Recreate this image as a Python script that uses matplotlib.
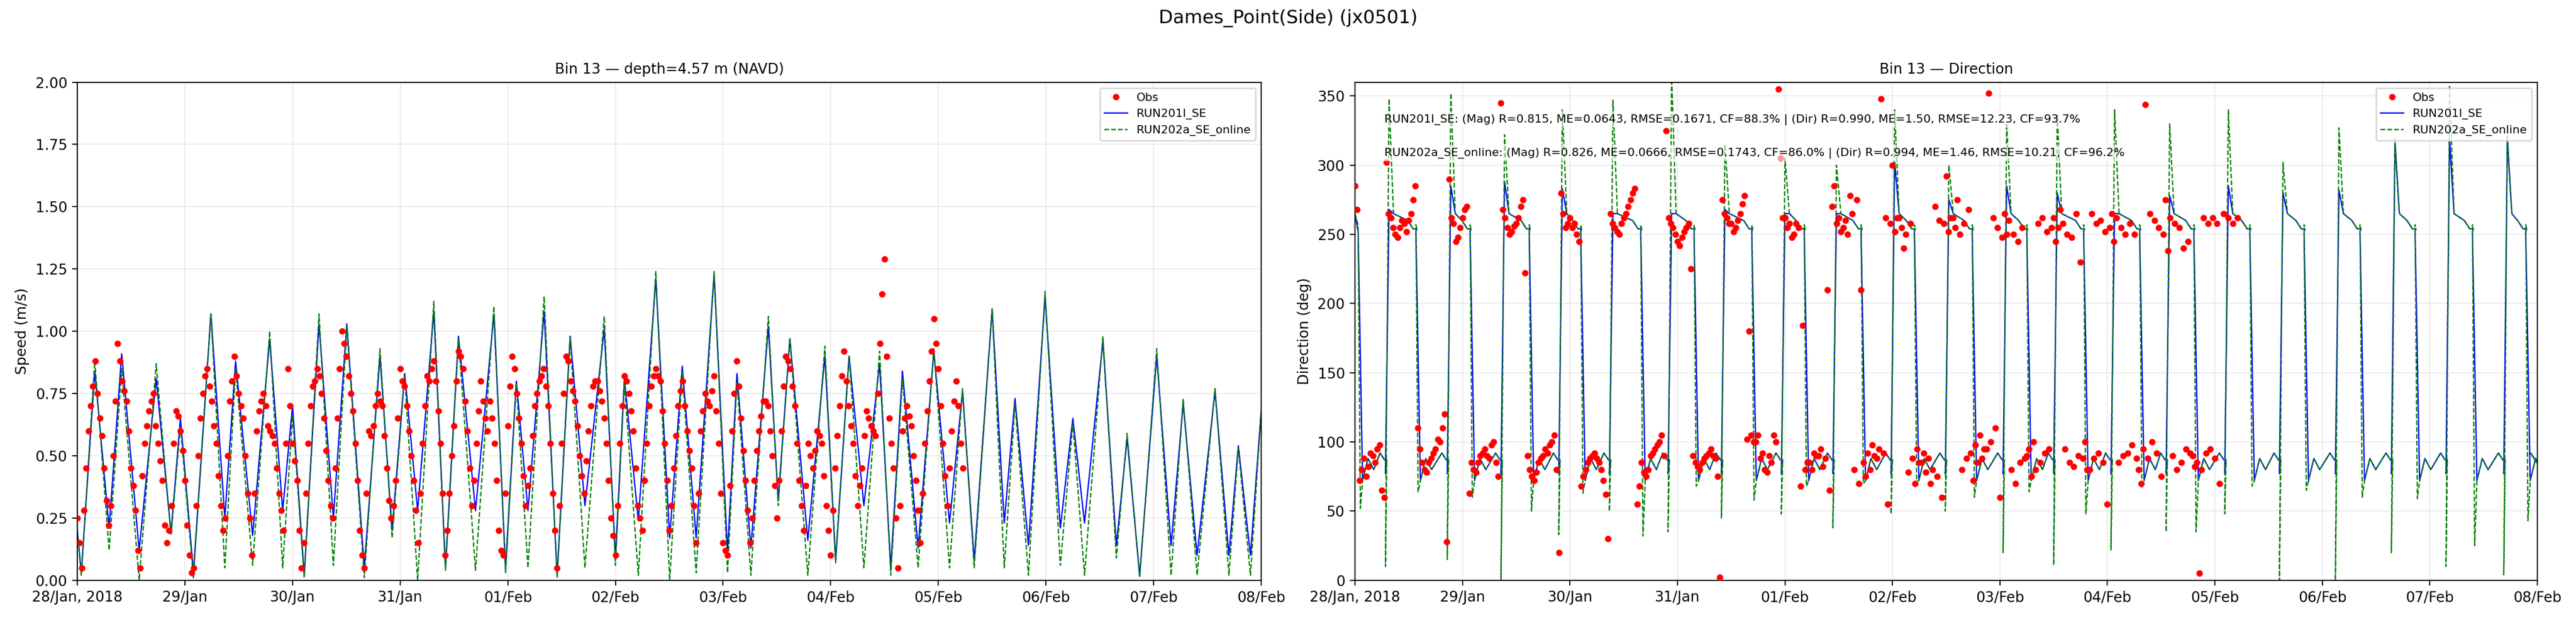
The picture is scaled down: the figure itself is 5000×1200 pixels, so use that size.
import numpy as np
import pandas as pd
import matplotlib
matplotlib.use("Agg")
import matplotlib.pyplot as plt
import matplotlib.dates as mdates

t0 = pd.Timestamp("2018-01-28 00:00")

# model speed: hours of turning points and values
spd_hours = [0, 0.9, 3.9, 7.1, 9.9, 13.8, 17.6, 20.9, 23.0, 25.9, 29.8, 32.9, 35.3, 39.1, 42.9,
             45.8, 48.0, 50.6, 53.9, 57.1, 60.1, 64.0, 67.5, 70.2, 73.0, 75.9, 79.5, 82.1, 85.0, 88.8,
             92.9, 95.5, 97.9, 100.5, 104.1, 107.0, 109.9, 113.2, 117.5, 120.0, 122.0, 125.1, 129.0, 132.1, 134.9,
             138.0, 142.0, 145.0, 147.1, 150.2, 154.1, 156.3, 158.9, 162.9, 166.7, 169.1, 172.1, 175.4, 178.9, 181.4,
             184.0, 187.5, 191.0, 194.5, 197.4, 200.0, 204.0, 206.7, 209.1, 212.1, 215.8, 219.2, 222.0, 224.6, 228.7,
             231.7, 234.1, 236.9, 240.7, 243.9, 246.6, 249.7, 253.7, 256.8, 258.9, 261.6, 264]
spd_run201 = [0.20, 0.03, 0.84, 0.21, 0.91, 0.12, 0.81, 0.19, 0.65, 0.03, 1.07, 0.25, 0.88, 0.18, 0.97,
              0.28, 0.70, 0.02, 1.03, 0.25, 1.03, 0.05, 0.90, 0.20, 0.83, 0.28, 1.08, 0.05, 0.98, 0.28,
              1.07, 0.05, 0.80, 0.28, 1.08, 0.02, 0.98, 0.30, 1.01, 0.09, 0.81, 0.24, 1.21, 0.17, 0.86,
              0.17, 1.23, 0.11, 0.83, 0.13, 1.02, 0.32, 0.97, 0.16, 0.90, 0.08, 0.90, 0.30, 0.87, 0.05,
              0.84, 0.13, 0.92, 0.23, 0.76, 0.08, 1.09, 0.23, 0.73, 0.14, 1.14, 0.21, 0.65, 0.23, 0.96,
              0.14, 0.57, 0.02, 0.90, 0.14, 0.71, 0.10, 0.76, 0.10, 0.54, 0.10, 0.68]
spd_run202 = [0.20, 0.02, 0.88, 0.12, 0.85, 0.00, 0.87, 0.18, 0.62, 0.01, 1.07, 0.05, 0.85, 0.06, 1.00,
              0.05, 0.66, 0.01, 1.07, 0.06, 1.02, 0.01, 0.93, 0.17, 0.82, 0.00, 1.12, 0.04, 0.97, 0.04,
              1.10, 0.03, 0.79, 0.05, 1.14, 0.01, 0.97, 0.05, 1.06, 0.06, 0.79, 0.02, 1.24, 0.00, 0.84,
              0.03, 1.24, 0.03, 0.80, 0.02, 1.06, 0.30, 0.97, 0.02, 0.94, 0.07, 0.90, 0.05, 0.92, 0.02,
              0.81, 0.05, 0.93, 0.05, 0.77, 0.05, 1.09, 0.05, 0.71, 0.02, 1.16, 0.06, 0.63, 0.02, 0.98,
              0.09, 0.59, 0.01, 0.93, 0.02, 0.73, 0.02, 0.77, 0.02, 0.53, 0.02, 0.68]

# observed speed, hourly from 28/Jan 00:00
obs_spd = [0.25, 0.05, 0.45, 0.70, 0.88, 0.65, 0.45, 0.22, 0.50, 0.95, 0.80, 0.72, 0.45, 0.28, 0.05, 0.55,
           0.68, 0.75, 0.55, 0.40, 0.15, 0.30, 0.68, 0.60, 0.40, 0.10, 0.05, 0.50, 0.75, 0.85, 0.72, 0.55,
           0.30, 0.25, 0.72, 0.90, 0.75, 0.65, 0.35, 0.10, 0.60, 0.72, 0.70, 0.60, 0.55, 0.35, 0.20, 0.85,
           0.55, 0.40, 0.05, 0.35, 0.70, 0.80, 0.82, 0.65, 0.40, 0.25, 0.65, 1.00, 0.90, 0.75, 0.55, 0.20,
           0.05, 0.60, 0.62, 0.75, 0.70, 0.45, 0.25, 0.40, 0.85, 0.78, 0.60, 0.40, 0.15, 0.55, 0.82, 0.85,
           0.80, 0.55, 0.10, 0.35, 0.62, 0.92, 0.85, 0.60, 0.30, 0.55, 0.80, 0.65, 0.72, 0.55, 0.20, 0.10,
           0.62, 0.90, 0.75, 0.55, 0.30, 0.45, 0.70, 0.80, 0.85, 0.70, 0.35, 0.05, 0.55, 0.90, 0.80, 0.72,
           0.50, 0.35, 0.60, 0.78, 0.80, 0.72, 0.55, 0.25, 0.10, 0.55, 0.82, 0.75, 0.60, 0.30, 0.20, 0.55,
           0.78, 0.85, 0.80, 0.55, 0.20, 0.45, 0.70, 0.80, 0.60, 0.45, 0.15, 0.60, 0.75, 0.70, 0.82, 0.55,
           0.15, 0.10, 0.60, 0.88, 0.65, 0.40, 0.15, 0.40, 0.60, 0.72, 0.70, 0.50, 0.25, 0.60, 0.90, 0.85,
           0.70, 0.40, 0.20, 0.55, 0.45, 0.60, 0.55, 0.30, 0.10, 0.45, 0.70, 0.92, 0.70, 0.55, 0.30, 0.45,
           0.68, 0.62, 0.58, 0.95, 1.29, 0.65, 0.45, 0.05, 0.60, 0.70, 0.62, 0.40, 0.15, 0.55, 0.80, 1.05,
           0.85, 0.55, 0.30, 0.60, 0.80, 0.55]
# observed speed at half past each hour
obs_spd_half = [0.15, 0.28, 0.60, 0.78, 0.75, 0.58, 0.32, 0.30, 0.72, 0.88, 0.76, 0.60, 0.38, 0.12, 0.42, 0.62,
                0.72, 0.62, 0.48, 0.22, 0.20, 0.55, 0.66, 0.52, 0.22, 0.03, 0.30, 0.65, 0.82, 0.78, 0.62, 0.42,
                0.20, 0.50, 0.80, 0.82, 0.70, 0.50, 0.25, 0.35, 0.68, 0.75, 0.62, 0.58, 0.45, 0.28, 0.55, 0.70,
                0.48, 0.20, 0.15, 0.55, 0.78, 0.85, 0.75, 0.52, 0.30, 0.45, 0.85, 0.95, 0.82, 0.68, 0.40, 0.10,
                0.35, 0.58, 0.70, 0.72, 0.58, 0.32, 0.30, 0.65, 0.80, 0.70, 0.50, 0.28, 0.35, 0.70, 0.80, 0.88,
                0.68, 0.35, 0.20, 0.50, 0.80, 0.90, 0.72, 0.45, 0.40, 0.68, 0.72, 0.60, 0.65, 0.40, 0.12, 0.35,
                0.78, 0.85, 0.65, 0.42, 0.38, 0.58, 0.75, 0.82, 0.78, 0.55, 0.20, 0.30, 0.75, 0.88, 0.76, 0.62,
                0.42, 0.48, 0.70, 0.80, 0.76, 0.65, 0.40, 0.18, 0.30, 0.70, 0.80, 0.68, 0.45, 0.25, 0.40, 0.70,
                0.82, 0.82, 0.68, 0.40, 0.30, 0.58, 0.76, 0.70, 0.52, 0.30, 0.35, 0.68, 0.72, 0.76, 0.68, 0.35,
                0.12, 0.38, 0.75, 0.78, 0.52, 0.28, 0.25, 0.52, 0.66, 0.72, 0.60, 0.38, 0.40, 0.78, 0.88, 0.78,
                0.55, 0.30, 0.38, 0.50, 0.52, 0.58, 0.42, 0.20, 0.28, 0.58, 0.82, 0.80, 0.62, 0.42, 0.38, 0.58,
                0.65, 0.60, 0.75, 1.15, 0.90, 0.55, 0.25, 0.30, 0.65, 0.66, 0.50, 0.28, 0.35, 0.68, 0.92, 0.95,
                0.70, 0.42, 0.45, 0.72, 0.70, 0.45]

# observed direction, hourly from 28/Jan 00:00
obs_dir = [285, 72, 88, 82, 90, 95, 65, 302, 262, 250, 255, 258, 260, 275, 110, 85, 78, 88, 95, 100,
           120, 290, 258, 248, 262, 270, 85, 78, 90, 95, 88, 100, 75, 268, 255, 252, 258, 270, 222, 80,
           72, 85, 90, 92, 100, 80, 280, 255, 262, 258, 245, 75, 85, 90, 88, 80, 62, 265, 255, 250,
           262, 270, 280, 55, 85, 75, 90, 95, 100, 90, 262, 255, 245, 248, 255, 225, 85, 80, 88, 92,
           90, 75, 275, 262, 258, 255, 265, 278, 180, 100, 105, 92, 78, 85, 100, 305, 262, 258, 250, 255,
           184, 85, 80, 90, 95, 88, 65, 285, 262, 255, 250, 265, 275, 210, 75, 80, 90, 95, 92, 55,
           300, 262, 255, 250, 258, 70, 85, 92, 88, 80, 75, 60, 292, 262, 255, 250, 258, 268, 72, 85,
           88, 95, 100, 110, 60, 265, 260, 250, 245, 255, 90, 75, 80, 85, 92, 95, 262, 255, 258, 250,
           248, 265, 230, 100, 80, 88, 92, 85, 55, 265, 262, 255, 250, 258, 250, 80, 95, 88, 100, 92,
           75, 275, 262, 258, 255, 240, 245, 90, 85, 80, 92, 95, 88, 70, 265, 262, 258, 262]
# observed direction at half past each hour
obs_dir_half = [268, 80, 75, 92, 85, 98, 60, 265, 255, 248, 260, 252, 265, 285, 95, 80, 85, 92, 102, 110,
                28, 262, 245, 255, 268, 63, 80, 85, 92, 90, 98, 85, 345, 262, 250, 256, 262, 275, 90, 75,
                78, 88, 95, 98, 105, 20, 265, 258, 255, 250, 68, 80, 88, 92, 85, 72, 30, 258, 252, 258,
                265, 275, 283, 68, 78, 80, 92, 98, 105, 325, 258, 250, 242, 252, 258, 90, 82, 85, 90, 95,
                88, 2, 265, 258, 252, 260, 272, 102, 105, 100, 88, 80, 90, 105, 355, 262, 255, 248, 258, 68,
                80, 85, 92, 90, 82, 210, 270, 258, 252, 260, 278, 80, 70, 85, 92, 98, 88, 348, 262, 258,
                252, 262, 240, 78, 88, 95, 85, 78, 70, 270, 260, 258, 252, 262, 275, 80, 88, 92, 98, 105,
                95, 352, 262, 255, 248, 250, 80, 70, 85, 88, 95, 100, 258, 262, 252, 255, 245, 268, 95,
                85, 82, 90, 88, 80, 265, 258, 260, 252, 255, 245, 85, 90, 92, 98, 88, 70, 344, 265, 260,
                255, 250, 238, 90, 80, 85, 95, 92, 82, 5, 262, 258, 262, 258]

# direction model: slack-water switch hours (alternating down / up)
switch_hours = [0.9, 7.1, 13.8, 20.9, 25.9, 32.9, 39.1, 45.8, 50.6, 57.1, 64.0, 70.2, 75.9, 82.1, 88.8,
                95.5, 100.5, 107.0, 113.2, 120.0, 125.1, 132.1, 138.0, 145.0, 150.2, 156.3, 162.9, 169.1,
                175.4, 181.4, 187.5, 194.5, 200.0, 206.7, 212.1, 219.2, 224.6, 231.7, 236.9, 243.9, 249.7,
                256.8, 261.6]
up_spike_201 = [268, 285, 288, 283, 265, 265, 268, 265, 265, 302, 275, 285, 280, 265, 278, 285, 280,
                282, 316, 319, 319]
up_spike_202 = [348, 352, 322, 340, 347, 365, 315, 305, 300, 340, 300, 330, 337, 340, 330, 340, 302,
                327, 319, 358, 321]
up_dip_202 = [10, 15, 0, 33, 50, 35, 45, 48, 38, 48, 50, 20, 11, 22, 35, 48, 0, 0, 20, 10, 4]
down_dip_202 = [52, 64, 60, 50, 63, 32, 68, 58, 68, 70, 72, 60, 64, 48, 67, 35, 68, 65, 60, 59, 25, 43]
high_level = 262
low_level = 85


def dir_series(green):
    hrs = [0.0]
    vals = [265]
    ui = di = 0
    for k, ts in enumerate(switch_hours):
        te = switch_hours[k + 1] if k + 1 < len(switch_hours) else 264.0
        if k % 2 == 0:  # to low direction
            if green:
                hrs += [ts - 0.2, ts + 0.3]
                vals += [high_level - 5, down_dip_202[di]]
            else:
                hrs += [ts - 0.2]
                vals += [high_level - 10]
            di += 1
            hrs += [ts + 0.8, ts + 2.0, ts + 3.3, te - 1.5, te - 0.5]
            vals += [72, low_level + 3, low_level - 5, low_level + 7, low_level + 2]
        else:  # to high direction
            hrs += [ts - 0.3]
            vals += [up_dip_202[ui] if green else low_level - 8]
            hrs += [ts + 0.5, ts + 1.5, te - 2.0, te - 0.8]
            vals += [up_spike_202[ui] if green else up_spike_201[ui], high_level + 3,
                     high_level - 2, high_level - 8]
            ui += 1
        hrs.append(min(te, 264.0))
        vals.append(vals[-1])
    return hrs, vals


def to_time(h):
    return t0 + pd.to_timedelta(np.asarray(h, dtype=float), unit="h")


obs_time = to_time(np.concatenate([np.arange(len(obs_spd)), np.arange(len(obs_spd_half)) + 0.5]))
obs_time_d = to_time(np.concatenate([np.arange(len(obs_dir)), np.arange(len(obs_dir_half)) + 0.5]))
spd_time = to_time(spd_hours)

fig = plt.figure(figsize=(25, 6), dpi=200)
ax1 = fig.add_axes([0.030, 0.061, 0.4596, 0.806])
ax2 = fig.add_axes([0.526, 0.061, 0.459, 0.806])
fig.suptitle("Dames_Point(Side) (jx0501)", fontsize=13, y=0.985)

ax1.plot(obs_time, obs_spd + obs_spd_half, "o", color="red", ms=3.5, label="Obs", zorder=3)
ax1.plot(spd_time, spd_run201, "-", color="blue", lw=0.9, label="RUN201I_SE")
ax1.plot(spd_time, spd_run202, "--", color="green", lw=0.9, label="RUN202a_SE_online")
ax1.set_ylim(0, 2.0)
ax1.set_yticks(np.arange(0, 2.01, 0.25))
ax1.set_ylabel("Speed (m/s)", fontsize=10)
ax1.set_title("Bin 13 \u2014 depth=4.57 m (NAVD)", fontsize=10)

h1, v1 = dir_series(False)
h2, v2 = dir_series(True)
ax2.plot(obs_time_d, obs_dir + obs_dir_half, "o", color="red", ms=3.5, label="Obs", zorder=3)
ax2.plot(to_time(h1), v1, "-", color="blue", lw=0.9, label="RUN201I_SE")
ax2.plot(to_time(h2), v2, "--", color="green", lw=0.9, label="RUN202a_SE_online")
ax2.set_ylim(0, 360)
ax2.set_yticks(np.arange(0, 351, 50))
ax2.set_ylabel("Direction (deg)", fontsize=10)
ax2.set_title("Bin 13 \u2014 Direction", fontsize=10)
box = dict(facecolor="white", edgecolor="none", alpha=0.6, pad=2)
ax2.text(0.025, 0.925, "RUN201I_SE: (Mag) R=0.815, ME=0.0643, RMSE=0.1671, CF=88.3% | (Dir) R=0.990, ME=1.50, RMSE=12.23, CF=93.7%",
         transform=ax2.transAxes, fontsize=8, va="center", bbox=box, zorder=5)
ax2.text(0.025, 0.858, "RUN202a_SE_online: (Mag) R=0.826, ME=0.0666, RMSE=0.1743, CF=86.0% | (Dir) R=0.994, ME=1.46, RMSE=10.21, CF=96.2%",
         transform=ax2.transAxes, fontsize=8, va="center", bbox=box, zorder=5)


def fmt(x, pos):
    d = mdates.num2date(x)
    if d.day == 28 and d.month == 1:
        return d.strftime("%d/%b, %Y")
    return d.strftime("%d/%b")


for ax in (ax1, ax2):
    ax.set_xlim(t0, t0 + pd.Timedelta(days=11))
    ax.xaxis.set_major_locator(mdates.DayLocator())
    ax.xaxis.set_major_formatter(plt.FuncFormatter(fmt))
    ax.tick_params(labelsize=10)
    ax.grid(True, color="#dddddd", lw=0.6, alpha=0.7)
    ax.legend(loc="upper right", fontsize=8)

fig.savefig("out.png", dpi=200)
